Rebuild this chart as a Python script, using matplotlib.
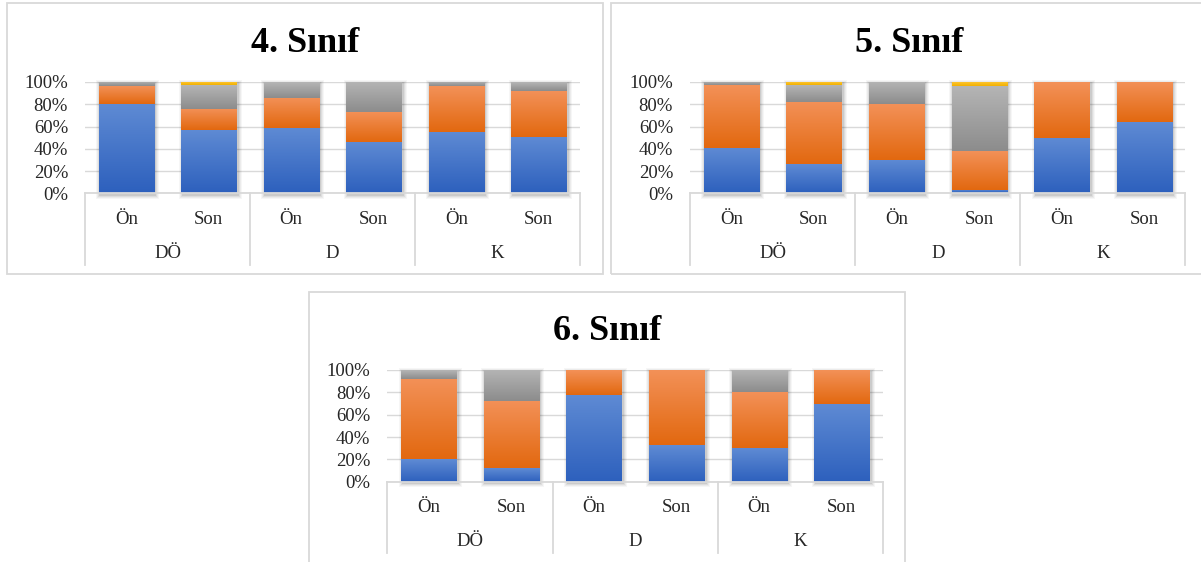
import numpy as np
import matplotlib
matplotlib.use("Agg")
import matplotlib.pyplot as plt
from matplotlib.patches import Rectangle
from matplotlib.colors import LinearSegmentedColormap
from matplotlib.transforms import blended_transform_factory

plt.rcParams['font.family'] = ['Liberation Serif', 'DejaVu Serif']

# bar data (percent of students), order: DÖ-Ön, DÖ-Son, D-Ön, D-Son, K-Ön, K-Son
groups = ["DÖ", "D", "K"]
phases = ["Ön", "Son"]
titles = ["4. Sınıf", "5. Sınıf", "6. Sınıf"]

blue_4 = [80, 57, 59, 46, 55, 51]
orange_4 = [16, 19, 27, 27, 41, 41]
gray_4 = [4, 21, 14, 27, 4, 8]
yellow_4 = [0, 3, 0, 0, 0, 0]

blue_5 = [41, 26, 30, 3, 50, 64]
orange_5 = [56, 56, 50, 35, 50, 36]
gray_5 = [3, 15, 20, 58, 0, 0]
yellow_5 = [0, 3, 0, 4, 0, 0]

blue_6 = [20, 12, 78, 33, 30, 70]
orange_6 = [72, 60, 22, 67, 50, 30]
gray_6 = [8, 28, 0, 0, 20, 0]
yellow_6 = [0, 0, 0, 0, 0, 0]

W, H = 1201, 562
fig = plt.figure(figsize=(W / 100, H / 100), dpi=100)

# (top colour, bottom colour) for each series gradient
grads = [("#5F8BD4", "#2D60BD"), ("#F39158", "#E2680F"),
         ("#B5B5B5", "#8C8C8C"), ("#FFC93A", "#F2B000")]
text_c = "#262626"
line_c = "#D9D9D9"


def frac(x0, y0, x1, y1):
    return [x0 / W, 1 - y1 / H, (x1 - x0) / W, (y1 - y0) / H]


def draw_panel(title, series, box, area):
    # outer frame of the chart
    fig.patches.append(Rectangle((box[0] / W, 1 - box[3] / H), (box[2] - box[0]) / W,
                                 (box[3] - box[1]) / H, transform=fig.transFigure,
                                 fill=False, ec=line_c, lw=1.3))
    fig.text((box[0] + box[2]) / 2 / W, 1 - (box[1] + 48.4) / H, title,
             ha="center", va="baseline", fontsize=26, fontweight="bold", color="black")

    ax = fig.add_axes(frac(*area))
    n = len(series[0])
    x = np.arange(n)
    width = 0.667
    ax_h = area[3] - area[1]
    px_x = 1 / ((area[2] - area[0]) / n)
    px_y = 1 / ax_h

    # soft shadow behind each bar
    for i in x:
        for grow, a in [(4, 0.035), (3, 0.045), (2, 0.06), (1, 0.08)]:
            ax.add_patch(Rectangle((i - width / 2 - grow * px_x + 1.5 * px_x, -grow * px_y - 1.5 * px_y),
                                   width + 2 * grow * px_x, 1 + 2 * grow * px_y,
                                   color="black", alpha=a, lw=0, zorder=1, clip_on=False))

    grad = np.linspace(0, 1, 256).reshape(-1, 1)
    bottom = np.zeros(n)
    for vals, (top_c, bot_c) in zip(series, grads):
        v = np.array(vals) / 100
        bars = ax.bar(x, v, width, bottom=bottom, color=top_c, lw=0, zorder=2)
        cmap = LinearSegmentedColormap.from_list("g", [bot_c, top_c])
        for b, h, y0 in zip(bars, v, bottom):
            if h <= 0:
                continue
            im = ax.imshow(grad, cmap=cmap, origin="lower", aspect="auto",
                           interpolation="bilinear", zorder=3,
                           extent=[b.get_x(), b.get_x() + b.get_width(), y0, y0 + h])
            im.set_clip_path(b)
        bottom = bottom + v

    ax.set_xlim(-0.5, n - 0.5)
    ax.set_ylim(0, 1)
    ax.set_aspect("auto")
    ax.set_yticks(np.arange(0, 1.01, 0.2))
    ax.set_yticklabels([f"{int(round(t * 100))}%" for t in np.arange(0, 1.01, 0.2)])
    ax.set_xticks([])
    ax.tick_params(axis="y", length=0, pad=12.2, labelsize=13.5, labelcolor=text_c)
    ax.yaxis.grid(True, color=line_c, lw=1)
    ax.set_axisbelow(True)
    for s in ax.spines.values():
        s.set_visible(False)
    ax.axhline(0, color=line_c, lw=1.3, zorder=4, clip_on=False)

    # two-level category axis
    tr = blended_transform_factory(ax.transData, ax.transAxes)
    drop = 71.7 / ax_h
    for xb in np.arange(-0.5, n, 2):
        ax.plot([xb, xb], [0, -drop], color=line_c, lw=1.3, transform=tr, clip_on=False)
    for i in x:
        ax.text(i, -25.7 / ax_h, phases[i % 2], transform=tr, ha="center", va="center",
                fontsize=13.5, color=text_c)
    for g, name in enumerate(groups):
        ax.text(2 * g + 0.5, -59.7 / ax_h, name, transform=tr, ha="center", va="center",
                fontsize=13.5, color=text_c)


draw_panel(titles[0], [blue_4, orange_4, gray_4, yellow_4],
           (6.7, 3.3, 602.7, 274.3), (85, 82, 580, 193.3))
draw_panel(titles[1], [blue_5, orange_5, gray_5, yellow_5],
           (611, 3.3, 1207, 274.3), (690, 82, 1185.5, 193.3))
draw_panel(titles[2], [blue_6, orange_6, gray_6, yellow_6],
           (309, 291.7, 905, 566), (387.3, 370, 883, 481.7))

fig.savefig("out.png", dpi=100)
